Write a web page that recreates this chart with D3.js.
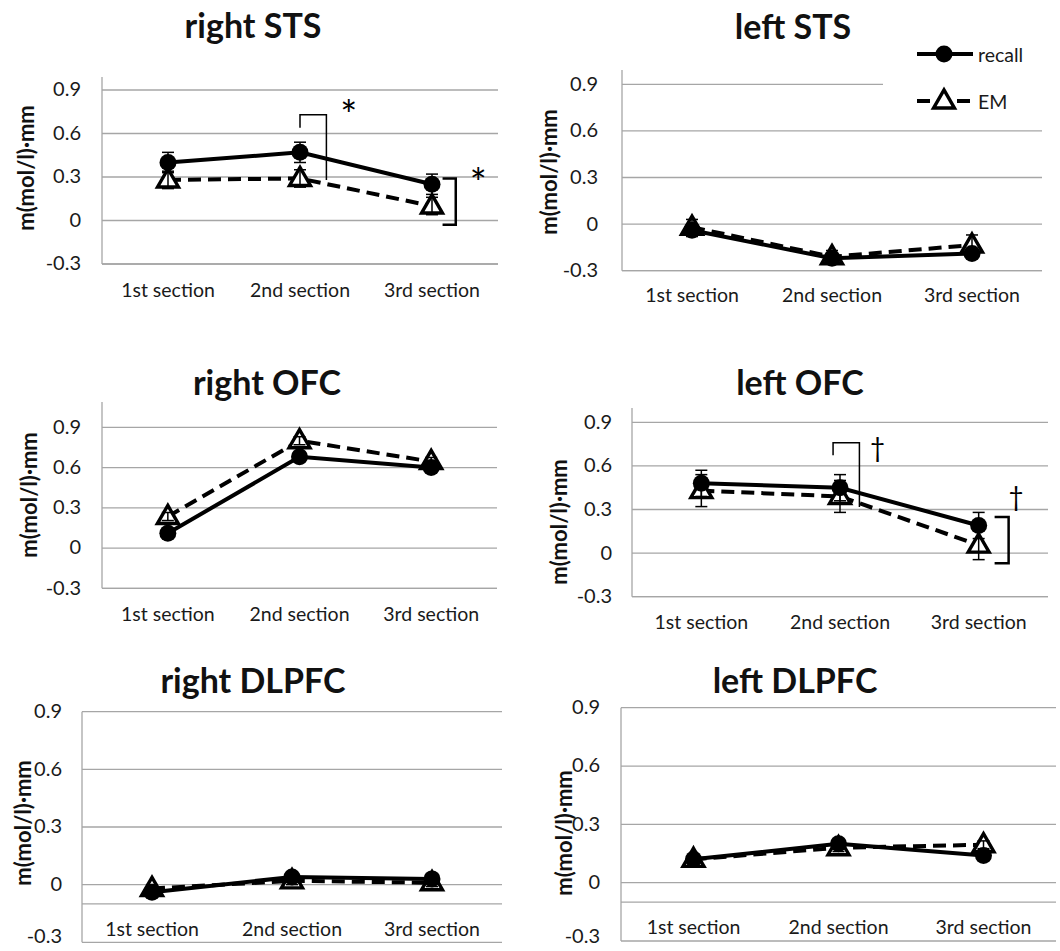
<!DOCTYPE html>
<html><head><meta charset="utf-8">
<script src="https://cdn.jsdelivr.net/npm/d3@7"></script>
<style>
html,body{margin:0;padding:0;background:#fff;}
svg{display:block;}
</style></head>
<body>
<svg id="chart" width="1060" height="951"></svg>
<script>
// ---------- data ----------
const categories = ["1st section", "2nd section", "3rd section"];
const yTicks = [-0.3, 0, 0.3, 0.6, 0.9];
const seriesNames = ["recall", "EM"];
const panelTitles = ["right STS", "left STS", "right OFC", "left OFC", "right DLPFC", "left DLPFC"];
const yAxisTitle = "m(mol/l)·mm";

const recallMeans = [
  [0.40, 0.47, 0.25],
  [-0.04, -0.22, -0.19],
  [0.11, 0.68, 0.60],
  [0.48, 0.45, 0.19],
  [-0.04, 0.04, 0.03],
  [0.12, 0.20, 0.14]
];
const recallErrors = [
  [0.07, 0.07, 0.07],
  [0.04, 0.03, 0.03],
  [0.03, 0.03, 0.03],
  [0.09, 0.09, 0.09],
  [0.02, 0.02, 0.02],
  [0.02, 0.02, 0.02]
];
const emMeans = [
  [0.28, 0.29, 0.10],
  [-0.02, -0.21, -0.135],
  [0.235, 0.80, 0.645],
  [0.43, 0.39, 0.055],
  [-0.02, 0.02, 0.01],
  [0.12, 0.18, 0.195]
];
const emErrors = [
  [0.06, 0.06, 0.06],
  [0.05, 0.04, 0.065],
  [0.03, 0.03, 0.03],
  [0.11, 0.11, 0.10],
  [0.02, 0.02, 0.02],
  [0.02, 0.02, 0.02]
];
// significance annotations (data units; category index, band offsets)
const sigBrackets = [
  {panel: 0, shape: "step",    cat: 1, off0: 0.0,   off1: 0.2,   yStart: 0.64, yTop: 0.73, yEnd: 0.28, label: "*", labelOff: 0.37, labelY: 0.78},
  {panel: 0, shape: "bracket", cat: 2, off0: 0.08,  off1: 0.18,  yStart: 0.29, yTop: 0.29, yEnd: -0.03, label: "*", labelOff: 0.35, labelY: 0.31},
  {panel: 3, shape: "step",    cat: 1, off0: -0.05, off1: 0.14,  yStart: 0.674, yTop: 0.76, yEnd: 0.317, label: "†", labelOff: 0.27, labelY: 0.72},
  {panel: 3, shape: "bracket", cat: 2, off0: 0.115, off1: 0.216, yStart: 0.248, yTop: 0.248, yEnd: -0.069, label: "†", labelOff: 0.27, labelY: 0.38}
];

// ---------- layout ----------
const panels = [
  {x0: 102, x1: 498,  yHi: 90,    yLo: 264,   axisTop: 77,    titleX: 253, titleY: 38,  xLabY: 293, ytX: 25,  ytY: 168, tickR: 81,  cross: -0.3, gridStop: {}},
  {x0: 622, x1: 1042, yHi: 84.3,  yLo: 270.7, axisTop: 70,    titleX: 793, titleY: 39,  xLabY: 298, ytX: 548, ytY: 172, tickR: 598, cross: -0.3, gridStop: {"0.9": 883}},
  {x0: 102, x1: 497,  yHi: 427.3, yLo: 588.3, axisTop: 402,   titleX: 267, titleY: 395, xLabY: 617, ytX: 28,  ytY: 495, tickR: 81,  cross: -0.3, gridStop: {}},
  {x0: 632, x1: 1048, yHi: 422.3, yLo: 596.7, axisTop: 408,   titleX: 800, titleY: 395, xLabY: 625, ytX: 558, ytY: 522, tickR: 612, cross: -0.3, gridStop: {}},
  {x0: 82,  x1: 502,  yHi: 711.7, yLo: 942.3, axisTop: 711.7, titleX: 253, titleY: 693, xLabY: 932, ytX: 22,  ytY: 823, tickR: 62,  cross: -0.1, gridStop: {}},
  {x0: 621, x1: 1056, yHi: 707.7, yLo: 941,   axisTop: 707.7, titleX: 795, titleY: 693, xLabY: 930, ytX: 563, ytY: 833, tickR: 600, cross: -0.1, gridStop: {}}
];

const FONT = "Lato, 'Open Sans', sans-serif";
const GRID = "#a6a6a6";
const svg = d3.select("#chart");
const fmt = d => d === 0 ? "0" : d.toFixed(1);

panels.forEach((p, i) => {
  const g = svg.append("g");
  const x = d3.scaleBand().domain(categories).range([p.x0, p.x1]).padding(0);
  const cx = (c, off = 0) => x(categories[c]) + x.bandwidth() * (0.5 + off);
  const y = d3.scaleLinear().domain([-0.3, 0.9]).range([p.yLo, p.yHi]);

  // gridlines
  g.selectAll("line.grid").data(yTicks).join("line")
    .attr("x1", p.x0).attr("x2", d => p.gridStop[fmt(d)] || p.x1)
    .attr("y1", d => y(d)).attr("y2", d => y(d))
    .attr("stroke", GRID).attr("stroke-width", 1.3);
  // category axis line
  g.append("line").attr("x1", p.x0).attr("x2", p.x1)
    .attr("y1", y(p.cross)).attr("y2", y(p.cross))
    .attr("stroke", GRID).attr("stroke-width", 1.3);
  // value axis line
  g.append("line").attr("x1", p.x0).attr("x2", p.x0)
    .attr("y1", p.axisTop).attr("y2", p.yLo)
    .attr("stroke", GRID).attr("stroke-width", 1.3);

  // y tick labels
  const ya = g.append("g").attr("transform", `translate(${p.tickR},0)`)
    .call(d3.axisLeft(y).tickValues(yTicks).tickSize(0).tickPadding(0).tickFormat(fmt));
  ya.select(".domain").remove();
  ya.selectAll("text").attr("font-family", FONT).attr("font-size", 20).attr("fill", "#1a1a1a");
  // keep the bottom label inside the picture
  ya.selectAll(".tick").attr("transform", d => `translate(0,${Math.min(y(d), 937)})`);

  // x labels
  const xa = g.append("g").attr("transform", `translate(0,${p.xLabY - 10})`)
    .call(d3.axisBottom(x).tickSize(0).tickPadding(0));
  xa.select(".domain").remove();
  xa.selectAll("text").attr("font-family", FONT).attr("font-size", 19.5).attr("fill", "#1a1a1a").attr("dy", "0.71em");

  // titles
  g.append("text").attr("x", p.titleX).attr("y", p.titleY).attr("text-anchor", "middle")
    .attr("font-family", FONT).attr("font-weight", "bold").attr("font-size", 34).attr("fill", "#111")
    .text(panelTitles[i]);
  g.append("text").attr("transform", `translate(${p.ytX},${p.ytY}) rotate(-90)`)
    .attr("text-anchor", "middle").attr("dominant-baseline", "central")
    .attr("font-family", FONT).attr("font-weight", "bold").attr("font-size", 22).attr("fill", "#111")
    .text(yAxisTitle);

  const line = d3.line().x((d, k) => cx(k)).y(d => y(d));
  const tri = d3.symbol().type(d3.symbolTriangle).size(190);

  // EM series
  g.append("path").attr("d", line(emMeans[i])).attr("fill", "none")
    .attr("stroke", "#000").attr("stroke-width", 4).attr("stroke-dasharray", "13,7");
  g.selectAll("path.tri").data(emMeans[i]).join("path")
    .attr("d", tri).attr("transform", (d, k) => `translate(${cx(k)},${y(d) + 1})`)
    .attr("fill", "#fff").attr("stroke", "#000").attr("stroke-width", 3.4);

  // recall series
  g.append("path").attr("d", line(recallMeans[i])).attr("fill", "none")
    .attr("stroke", "#000").attr("stroke-width", 4);
  g.selectAll("circle.rc").data(recallMeans[i]).join("circle")
    .attr("cx", (d, k) => cx(k)).attr("cy", d => y(d)).attr("r", 8.5).attr("fill", "#000");

  // error bars
  const eb = [];
  recallMeans[i].forEach((m, k) => eb.push({k, m, e: recallErrors[i][k]}));
  emMeans[i].forEach((m, k) => eb.push({k, m, e: emErrors[i][k]}));
  eb.forEach(d => {
    const xx = cx(d.k);
    g.append("line").attr("x1", xx).attr("x2", xx).attr("y1", y(d.m - d.e)).attr("y2", y(d.m + d.e))
      .attr("stroke", "#000").attr("stroke-width", 1.5);
    [d.m - d.e, d.m + d.e].forEach(v => g.append("line")
      .attr("x1", xx - 6).attr("x2", xx + 6).attr("y1", y(v)).attr("y2", y(v))
      .attr("stroke", "#000").attr("stroke-width", 1.5));
  });

  // significance
  sigBrackets.filter(b => b.panel === i).forEach(b => {
    const xa0 = cx(b.cat, b.off0), xa1 = cx(b.cat, b.off1);
    let pts;
    if (b.shape === "step") {
      pts = [[xa0, y(b.yStart)], [xa0, y(b.yTop)], [xa1, y(b.yTop)], [xa1, y(b.yEnd)]];
    } else {
      pts = [[xa0, y(b.yStart)], [xa1, y(b.yStart)], [xa1, y(b.yEnd)], [xa0, y(b.yEnd)]];
    }
    g.append("path").attr("d", d3.line()(pts)).attr("fill", "none")
      .attr("stroke", "#000").attr("stroke-width", b.shape === "step" ? 1.5 : 2.5);
    const star = b.label === "*";
    const fs = star ? 40 : 26;
    g.append("text").attr("x", cx(b.cat, b.labelOff)).attr("y", y(b.labelY) + fs * (star ? 0.57 : 0.32))
      .attr("text-anchor", "middle")
      .attr("font-family", FONT).attr("font-size", fs).attr("fill", "#000")
      .text(b.label);
  });
});

// legend (in left STS panel)
const lg = svg.append("g");
const legendRows = [{name: seriesNames[0], y: 54, dash: null}, {name: seriesNames[1], y: 101, dash: "13,7"}];
legendRows.forEach((r, k) => {
  lg.append("line").attr("x1", 917).attr("x2", 973).attr("y1", r.y).attr("y2", r.y)
    .attr("stroke", "#000").attr("stroke-width", 4).attr("stroke-dasharray", r.dash);
  if (k === 0) lg.append("circle").attr("cx", 944).attr("cy", r.y).attr("r", 8.5).attr("fill", "#000");
  else lg.append("path").attr("d", d3.symbol().type(d3.symbolTriangle).size(190)())
    .attr("transform", `translate(944,${r.y + 1})`).attr("fill", "#fff").attr("stroke", "#000").attr("stroke-width", 3.4);
  lg.append("text").attr("x", 978).attr("y", r.y).attr("dominant-baseline", "central")
    .attr("font-family", FONT).attr("font-size", 19.5).attr("fill", "#1a1a1a").text(r.name);
});
</script>
</body></html>
